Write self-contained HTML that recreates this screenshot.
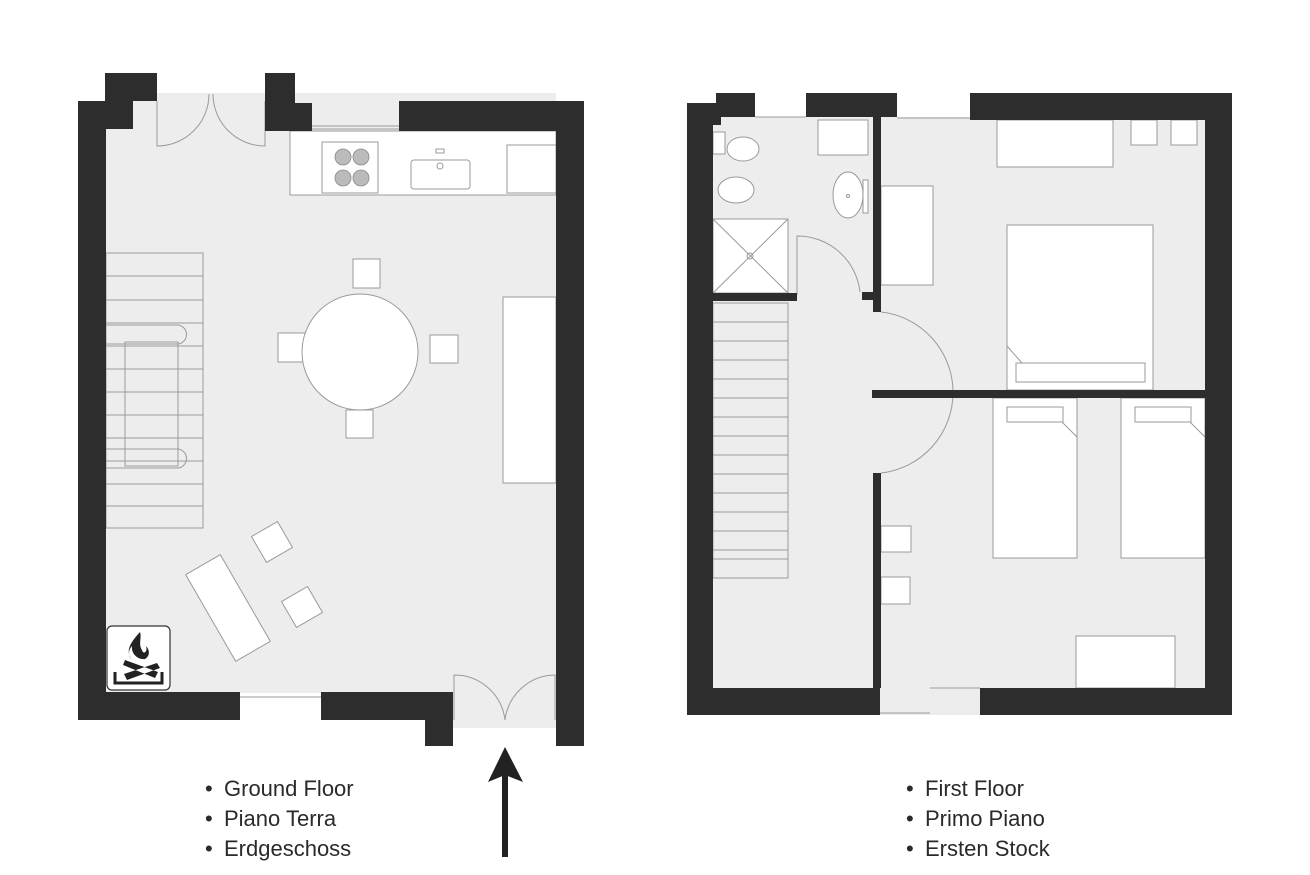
<!DOCTYPE html>
<html><head><meta charset="utf-8"><style>
html,body{margin:0;padding:0;background:#fff;width:1310px;height:875px;overflow:hidden}
svg{display:block}
.t{font-family:"Liberation Sans",sans-serif;font-size:22px;fill:#2a2a2a}
</style></head><body>
<svg width="1310" height="875" viewBox="0 0 1310 875" xmlns="http://www.w3.org/2000/svg">
<g fill="#ededed">
<rect x="106" y="93" width="450" height="600"/>
<rect x="157" y="93" width="110" height="40"/>
<rect x="453" y="680" width="103" height="48"/>
<rect x="713" y="117" width="492" height="572"/>
<rect x="880" y="688" width="100" height="27"/>
</g>
<g fill="none" stroke="#9a9a9a" stroke-width="1">
<line x1="312" y1="126" x2="399" y2="126"/><line x1="312" y1="129" x2="399" y2="129"/>
<line x1="240" y1="697" x2="321" y2="697"/>
<line x1="755" y1="117" x2="806" y2="117"/>
<line x1="897" y1="118" x2="970" y2="118"/>
<line x1="930" y1="688" x2="980" y2="688"/><line x1="880" y1="713" x2="930" y2="713"/>
<path d="M157 101 V146 A52 52 0 0 0 209 94"/>
<path d="M265 101 V146 A52 52 0 0 1 213 94"/>
<path d="M454 720 V675 A51 51 0 0 1 505 720"/>
<path d="M555 720 V675 A51 51 0 0 0 505 720"/>
</g>
<g fill="#fff" stroke="#9a9a9a" stroke-width="1">
<rect x="290" y="131" width="266" height="64"/>
<rect x="322" y="142" width="56" height="51"/>
<rect x="411" y="160" width="59" height="29" rx="3"/>
<rect x="436" y="149" width="8" height="4"/>
<circle cx="440" cy="166" r="3"/>
<rect x="507" y="145" width="49" height="48"/>
</g>
<g fill="#bbb" stroke="#888" stroke-width="0.8">
<circle cx="343" cy="157" r="8"/><circle cx="361" cy="157" r="8"/>
<circle cx="343" cy="178" r="8"/><circle cx="361" cy="178" r="8"/>
</g>
<g fill="none" stroke="#9a9a9a" stroke-width="1">
<rect x="106" y="253" width="97" height="275"/>
<path d="M106 276H203M106 300H203M106 323H203M106 346H203M106 369H203M106 392H203M106 415H203M106 438H203M106 461H203M106 484H203M106 506H203"/>
</g>
<g fill="none" stroke="#9a9a9a" stroke-width="1">
<path d="M106 325H177A9 9 0 0 1 177 344H106"/>
<path d="M106 449H177A9 9 0 0 1 177 468H106"/>
<rect x="125" y="342" width="53" height="124"/>
</g>
<g fill="#fff" stroke="#9a9a9a" stroke-width="1">
<rect x="353" y="259" width="27" height="29"/>
<rect x="278" y="333" width="27" height="29"/>
<rect x="430" y="335" width="28" height="28"/>
<rect x="346" y="410" width="27" height="28"/>
<circle cx="360" cy="352" r="58"/>
<rect x="503" y="297" width="53" height="186"/>
<g transform="translate(228,608) rotate(-30)"><rect x="-20" y="-50" width="40" height="100"/></g>
<g transform="translate(272,542) rotate(-30)"><rect x="-15" y="-15" width="30" height="30"/></g>
<g transform="translate(302,607) rotate(-30)"><rect x="-15" y="-15" width="30" height="30"/></g>
</g>
<rect x="107" y="626" width="63" height="64" rx="5" fill="#fff" stroke="#333" stroke-width="1.2"/>
<path d="M140 632 C128 645 126 652 132 660 C128 656 128 650 132 646 C131 654 138 660 145 659 C150 656 150 650 146 646 C148 652 143 655 142 650 C138 644 142 638 140 632Z" fill="#222"/>
<path d="M125 660 L158 672 L155 678 L123 665Z M157 663 L124 674 L127 680 L160 668Z" fill="#222"/>
<path d="M115 672 V683 H162 V672" fill="none" stroke="#222" stroke-width="3"/>
<g fill="#2d2d2d">
<rect x="78" y="101" width="28" height="619"/>
<rect x="78" y="101" width="55" height="28"/>
<rect x="105" y="73" width="52" height="28"/>
<rect x="265" y="73" width="30" height="58"/>
<rect x="265" y="103" width="47" height="28"/>
<rect x="399" y="101" width="185" height="30"/>
<rect x="556" y="101" width="28" height="645"/>
<rect x="78" y="692" width="162" height="28"/>
<rect x="321" y="692" width="132" height="28"/>
<rect x="425" y="692" width="28" height="54"/>
</g>
<rect x="502" y="770" width="6" height="87" fill="#222"/>
<path d="M505 747 L523 782 L505 775 L488 782Z" fill="#222"/>

<g fill="#fff" stroke="#9a9a9a" stroke-width="1">
<rect x="713" y="132" width="12" height="22"/>
<ellipse cx="743" cy="149" rx="16" ry="12"/>
<ellipse cx="736" cy="190" rx="18" ry="13"/>
<rect x="713" y="219" width="75" height="74"/>
<rect x="818" y="120" width="50" height="35"/>
<ellipse cx="848" cy="195" rx="15" ry="23"/>
<rect x="863" y="180" width="5" height="33"/>
<rect x="881" y="186" width="52" height="99"/>
<rect x="997" y="120" width="116" height="47"/>
<rect x="1131" y="120" width="26" height="25"/>
<rect x="1171" y="120" width="26" height="25"/>
<rect x="1007" y="225" width="146" height="165"/>
<rect x="1016" y="363" width="129" height="19"/>
<rect x="993" y="398" width="84" height="160"/>
<rect x="1007" y="407" width="56" height="15"/>
<rect x="1121" y="398" width="84" height="160"/>
<rect x="1135" y="407" width="56" height="15"/>
<rect x="881" y="526" width="30" height="26"/>
<rect x="881" y="577" width="29" height="27"/>
<rect x="1076" y="636" width="99" height="52"/>
</g>
<g fill="none" stroke="#9a9a9a" stroke-width="1">
<path d="M713 219L788 293M788 219L713 293"/>
<circle cx="750" cy="256" r="3"/>
<circle cx="848" cy="196" r="1.5"/>
<path d="M1007 346L1022 363M1062 422L1077 437M1190 422L1205 437"/>
<rect x="713" y="303" width="75" height="275"/>
<path d="M713 322H788M713 341H788M713 360H788M713 379H788M713 398H788M713 417H788M713 436H788M713 455H788M713 474H788M713 493H788M713 512H788M713 531H788M713 550H788M713 559H788"/>
<path d="M797 295 V236 A63 63 0 0 1 860 292"/>
<path d="M881 312 A81 81 0 0 1 881 473"/>
</g>
<g fill="#2d2d2d">
<rect x="687" y="103" width="26" height="612"/>
<rect x="716" y="93" width="39" height="24"/>
<rect x="687" y="103" width="52" height="14"/>
<rect x="713" y="117" width="8" height="8"/>
<rect x="806" y="93" width="91" height="24"/>
<rect x="970" y="93" width="262" height="27"/>
<rect x="1205" y="93" width="27" height="622"/>
<rect x="687" y="688" width="193" height="27"/>
<rect x="980" y="688" width="252" height="27"/>
<rect x="873" y="117" width="8" height="195"/>
<rect x="862" y="292" width="19" height="8"/>
<rect x="713" y="293" width="84" height="8"/>
<rect x="873" y="473" width="8" height="215"/>
<rect x="872" y="390" width="333" height="8"/>
</g>
<g class="t">
<text class="t" x="205" y="796">•</text><text class="t" x="224" y="796">Ground Floor</text>
<text class="t" x="205" y="826">•</text><text class="t" x="224" y="826">Piano Terra</text>
<text class="t" x="205" y="856">•</text><text class="t" x="224" y="856">Erdgeschoss</text>
<text class="t" x="906" y="796">•</text><text class="t" x="925" y="796">First Floor</text>
<text class="t" x="906" y="826">•</text><text class="t" x="925" y="826">Primo Piano</text>
<text class="t" x="906" y="856">•</text><text class="t" x="925" y="856">Ersten Stock</text>
</g>
</svg>
</body></html>
